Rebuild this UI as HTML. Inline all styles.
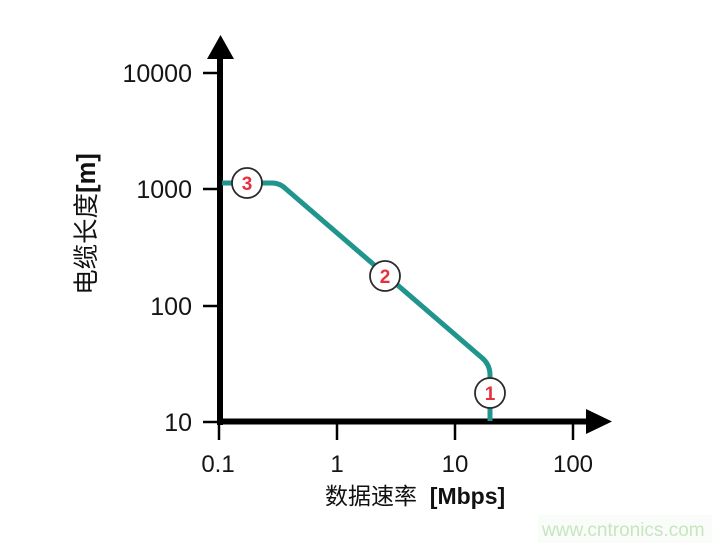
<!DOCTYPE html>
<html>
<head>
<meta charset="utf-8">
<style>
  html, body { margin: 0; padding: 0; background: #ffffff; }
  body { width: 726px; height: 545px; overflow: hidden; }
  svg { display: block; }
  .tick { font-family: "Liberation Sans", Arial, sans-serif; fill: #151515; }
  .lab { font-family: "Liberation Sans", "Noto Sans CJK SC", sans-serif; fill: #111; }
  .num { font-family: "Liberation Sans", Arial, sans-serif; font-weight: bold; fill: #e8303c; font-size: 19px; }
</style>
</head>
<body>
<svg width="726" height="545" viewBox="0 0 726 545" xmlns="http://www.w3.org/2000/svg">
  <rect x="0" y="0" width="726" height="545" fill="#ffffff"/>

  <!-- watermark box -->
  <rect x="538" y="515" width="174" height="28" fill="#fafcfa"/>
  <text x="542" y="536" font-family="Liberation Sans, Arial, sans-serif" font-size="19" fill="#c6e6be">www.cntronics.com</text>

  <!-- y ticks -->
  <g stroke="#000" stroke-width="2.5">
    <line x1="203" y1="73" x2="220" y2="73"/>
    <line x1="203" y1="189" x2="220" y2="189"/>
    <line x1="203" y1="306" x2="220" y2="306"/>
    <line x1="203" y1="422" x2="220" y2="422"/>
  </g>
  <!-- x ticks -->
  <g stroke="#000" stroke-width="2.5">
    <line x1="219" y1="422" x2="219" y2="440"/>
    <line x1="337" y1="422" x2="337" y2="440"/>
    <line x1="455" y1="422" x2="455" y2="440"/>
    <line x1="573" y1="422" x2="573" y2="440"/>
  </g>

  <!-- axes -->
  <line x1="220" y1="55" x2="220" y2="425" stroke="#000" stroke-width="6"/>
  <polygon points="207,59 234,59 220.5,35" fill="#000"/>
  <line x1="217" y1="421.5" x2="590" y2="421.5" stroke="#000" stroke-width="6"/>
  <polygon points="586,409 586,434 612,421.5" fill="#000"/>

  <!-- y tick labels -->
  <g class="tick" font-size="25" text-anchor="end">
    <text x="192" y="82">10000</text>
    <text x="192" y="198">1000</text>
    <text x="192" y="315">100</text>
    <text x="192" y="431">10</text>
  </g>
  <!-- x tick labels -->
  <g class="tick" font-size="24" text-anchor="middle">
    <text x="218" y="472">0.1</text>
    <text x="337" y="472">1</text>
    <text x="455" y="472">10</text>
    <text x="573" y="472">100</text>
  </g>

  <!-- axis titles -->
  <text class="lab" x="325" y="504" font-size="23"><tspan>数据速率</tspan><tspan xml:space="preserve">  </tspan><tspan font-weight="bold">[Mbps]</tspan></text>
  <text class="lab" transform="translate(95,224) rotate(-90)" text-anchor="middle" font-size="25.5"><tspan>电缆长度</tspan><tspan font-weight="bold">[m]</tspan></text>

  <!-- curve -->
  <path d="M 222 183 L 272 183 Q 280 183 286 189 L 481 357 Q 490 364 490 375 L 490 421"
        fill="none" stroke="#1f958e" stroke-width="5" stroke-linejoin="round"/>

  <!-- markers -->
  <g stroke="#2a2a2a" stroke-width="1.8" fill="#fff">
    <circle cx="247" cy="183" r="15"/>
    <circle cx="385" cy="276" r="15"/>
    <circle cx="490" cy="393" r="15"/>
  </g>
  <g class="num" text-anchor="middle">
    <text x="247" y="190">3</text>
    <text x="385" y="283">2</text>
    <text x="490" y="400">1</text>
  </g>
</svg>
</body>
</html>
